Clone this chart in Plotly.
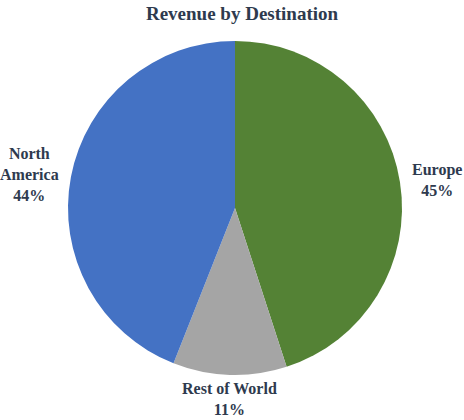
import math
import plotly.graph_objects as go

labels = ["Europe", "Rest of World", "North<br>America"]
values = [45, 11, 44]
colors = ["#548235", "#A5A5A5", "#4472C4"]

FONT = "Liberation Serif, Times New Roman, serif"
TEXT_COLOR = "#2E3A4E"

# figure geometry (pixels inside the figure)
W, H = 464, 420
M = dict(l=6, r=0, t=41, b=45)
PW, PH = W - M["l"] - M["r"], H - M["t"] - M["b"]
R = min(PW, PH) / 2          # pie radius in px
CX, CY = PW / 2, PH / 2       # pie centre within plot area (px, y down)
SIDE_GAP = 10
BOTTOM_GAP = 3

fig = go.Figure(go.Pie(
    labels=labels,
    values=values,
    sort=False,
    direction="clockwise",
    rotation=0,
    marker=dict(colors=colors, line=dict(color="#FFFFFF", width=0)),
    textinfo="none",
    showlegend=False,
    hoverinfo="label+percent",
))

total = sum(values)
cum = 0
annotations = []
for lab, v in zip(labels, values):
    mid = (cum + v / 2) / total
    cum += v
    th = 2 * math.pi * mid
    dx, dy = math.sin(th), -math.cos(th)   # screen direction (y down)
    if abs(dx) > 0.5:
        gap = SIDE_GAP
        xa = "left" if dx > 0 else "right"
        ya = "middle"
    else:
        gap = BOTTOM_GAP
        xa = "center"
        ya = "top" if dy > 0 else "bottom"
    px = CX + dx * (R + gap)
    py = CY + dy * (R + gap)
    pct = round(v / total * 100)
    annotations.append(dict(
        text=f"{lab}<br>{pct}%",
        x=px / PW, y=1 - py / PH, xref="paper", yref="paper",
        xanchor=xa, yanchor=ya, showarrow=False, align="center",
        font=dict(family=FONT, size=16, color=TEXT_COLOR, weight="bold"),
    ))

fig.update_layout(
    width=W, height=H,
    paper_bgcolor="white",
    margin=M,
    annotations=annotations,
    title=dict(text="Revenue by Destination", x=0.5216, xanchor="center", y=0.983, yanchor="top",
               font=dict(family=FONT, size=19, color=TEXT_COLOR, weight="bold")),
)

fig.write_html("out.html", config={"displayModeBar": False},
               post_script="document.body.style.margin='0';")
